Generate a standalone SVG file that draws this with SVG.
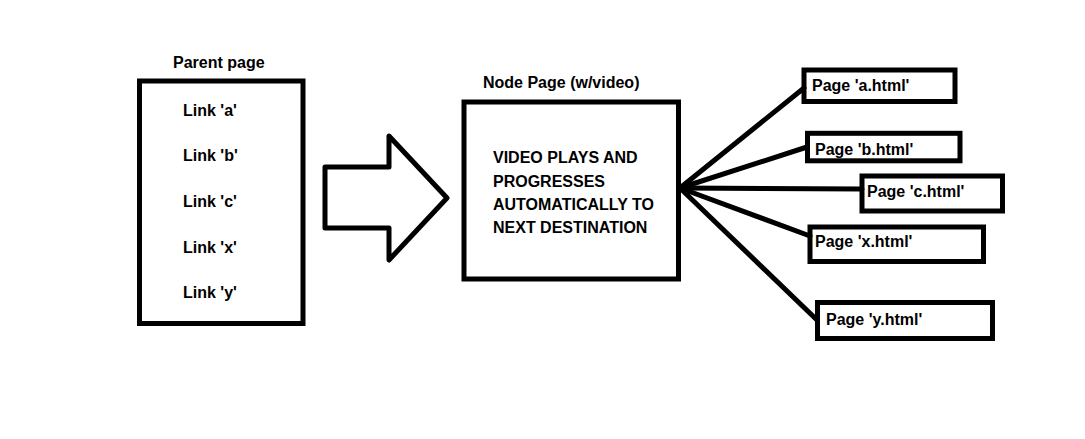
<svg xmlns="http://www.w3.org/2000/svg" width="1085" height="439" viewBox="0 0 1085 439">
<style>
.box{fill:none;stroke:#000;stroke-width:5}
.t{font-family:"Liberation Sans",Arial,sans-serif;font-weight:bold;font-size:16px;fill:#000}
.c{stroke:#000;stroke-width:5;fill:none;stroke-linecap:round}
</style>
<rect width="1085" height="439" fill="#fff"/>
<g id="parent">
<rect class="box" x="139.5" y="81" width="163.5" height="242.5"/>
<text class="t" x="173" y="68">Parent page</text>
<text class="t" x="183" y="116">Link 'a'</text>
<text class="t" x="183" y="161">Link 'b'</text>
<text class="t" x="183" y="207">Link 'c'</text>
<text class="t" x="183" y="253">Link 'x'</text>
<text class="t" x="183" y="298">Link 'y'</text>
</g>
<g id="bigarrow">
<polygon class="box" stroke-linejoin="round" points="325,167 389,167 389,136 447,198 389,260 389,228 325,228"/>
</g>
<g id="node">
<rect class="box" x="464" y="102" width="214.5" height="177"/>
<text class="t" x="483" y="88">Node Page (w/video)</text>
<text class="t" x="493" y="163">VIDEO PLAYS AND</text>
<text class="t" x="493" y="186.5">PROGRESSES</text>
<text class="t" x="493" y="209.5">AUTOMATICALLY TO</text>
<text class="t" x="493" y="232.5">NEXT DESTINATION</text>
</g>
<g id="connectors">
<line class="c" x1="680" y1="188" x2="804" y2="88"/>
<line class="c" x1="680" y1="188" x2="807" y2="147"/>
<line class="c" x1="680" y1="188" x2="862" y2="189"/>
<line class="c" x1="680" y1="188" x2="810" y2="236"/>
<line class="c" x1="680" y1="188" x2="817" y2="320"/>
</g>
<g id="page-a">
<rect class="box" x="804" y="70" width="151" height="31.5"/>
<text class="t" x="812" y="91">Page 'a.html'</text>
</g>
<g id="page-b">
<rect class="box" x="807.5" y="133.3" width="152.5" height="27.5"/>
<text class="t" x="815" y="155">Page 'b.html'</text>
</g>
<g id="page-c">
<rect class="box" x="862" y="176" width="140.5" height="35"/>
<text class="t" x="867" y="197">Page 'c.html'</text>
</g>
<g id="page-x">
<rect class="box" x="810" y="227" width="173.5" height="34.5"/>
<text class="t" x="815" y="247">Page 'x.html'</text>
</g>
<g id="page-y">
<rect class="box" x="817.5" y="302.5" width="175" height="36"/>
<text class="t" x="826" y="325">Page 'y.html'</text>
</g>
</svg>
